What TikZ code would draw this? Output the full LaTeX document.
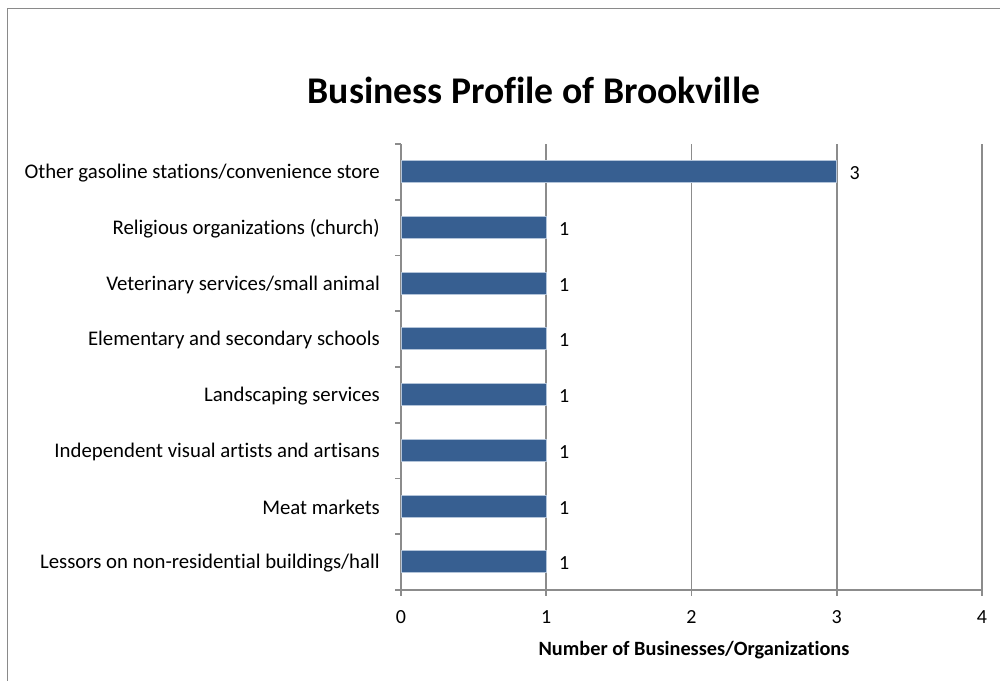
\documentclass[tikz,border=0pt]{standalone}
\usepackage{fontspec}
\setmainfont{Carlito}[Ligatures=NoCommon]
\definecolor{barblue}{HTML}{375F91}
\definecolor{baredge}{HTML}{B3C4D9}
\definecolor{axisgray}{HTML}{8C8C8C}
\definecolor{framegray}{HTML}{8A8A8A}
\begin{document}
\begin{tikzpicture}[x=1pt,y=-1pt,
  cat/.style={anchor=east,inner sep=0pt,font=\fontsize{20.8}{24}\selectfont},
  val/.style={anchor=center,inner sep=0pt,font=\fontsize{20}{24}\selectfont},
  tick/.style={anchor=center,inner sep=0pt,font=\fontsize{20}{24}\selectfont},
  bar/.style={fill=barblue,draw=baredge,line width=0.8pt},
  grid/.style={draw=axisgray,line width=1.6pt},
  axisline/.style={draw=axisgray,line width=1.6pt}]
\useasboundingbox (0,0) rectangle (1000,680);
\fill[white] (0,0) rectangle (1000,680);
% outer frame
\draw[framegray,line width=1.5pt] (7.5,690) -- (7.5,8.5) -- (1010,8.5);
% title
\node[inner sep=0pt,font=\bfseries\fontsize{37.7}{42}\selectfont] (title) at (534,90) {Business Profile of Brookville};
% grid lines
\foreach \i in {1,2,3,4}{
  \draw[grid] ({401+145.25*\i},144) -- ({401+145.25*\i},596);
}
% axes
\draw[axisline] (401,144) -- (401,590) -- (982,590);
\foreach \k in {0,...,8}{
  \draw[axisline] (395,{144+55.75*\k}) -- (401,{144+55.75*\k});
}
\draw[axisline] (401,590) -- (401,596);
% x tick labels
\foreach \i in {0,...,4}{
  \node[tick] (xt\i) at ({401+145.25*\i},617.5) {\i};
}
\node[inner sep=0pt,font=\bfseries\fontsize{20.3}{24}\selectfont] (xtitle) at (694,650) {Number of Businesses/Organizations};
% bars
\foreach \k/\lab/\v in {
  0/{Other gasoline stations/convenience store}/3,
  1/{Religious organizations (church)}/1,
  2/{Veterinary services/small animal}/1,
  3/{Elementary and secondary schools}/1,
  4/{Landscaping services}/1,
  5/{Independent visual artists and artisans}/1,
  6/{Meat markets}/1,
  7/{Lessors on non-residential buildings/hall}/1}{
  \pgfmathsetmacro{\yc}{144+55.75*\k+27.6}
  \draw[bar] (401,{\yc-11}) rectangle ({401+145.25*\v},{\yc+11});
  \node[cat] (c\k) at (380,{\yc+1.5}) {\lab};
  \node[val] (v\k) at ({401+145.25*\v+18},{\yc+1.5}) {\v};
}
\end{tikzpicture}
\end{document}
